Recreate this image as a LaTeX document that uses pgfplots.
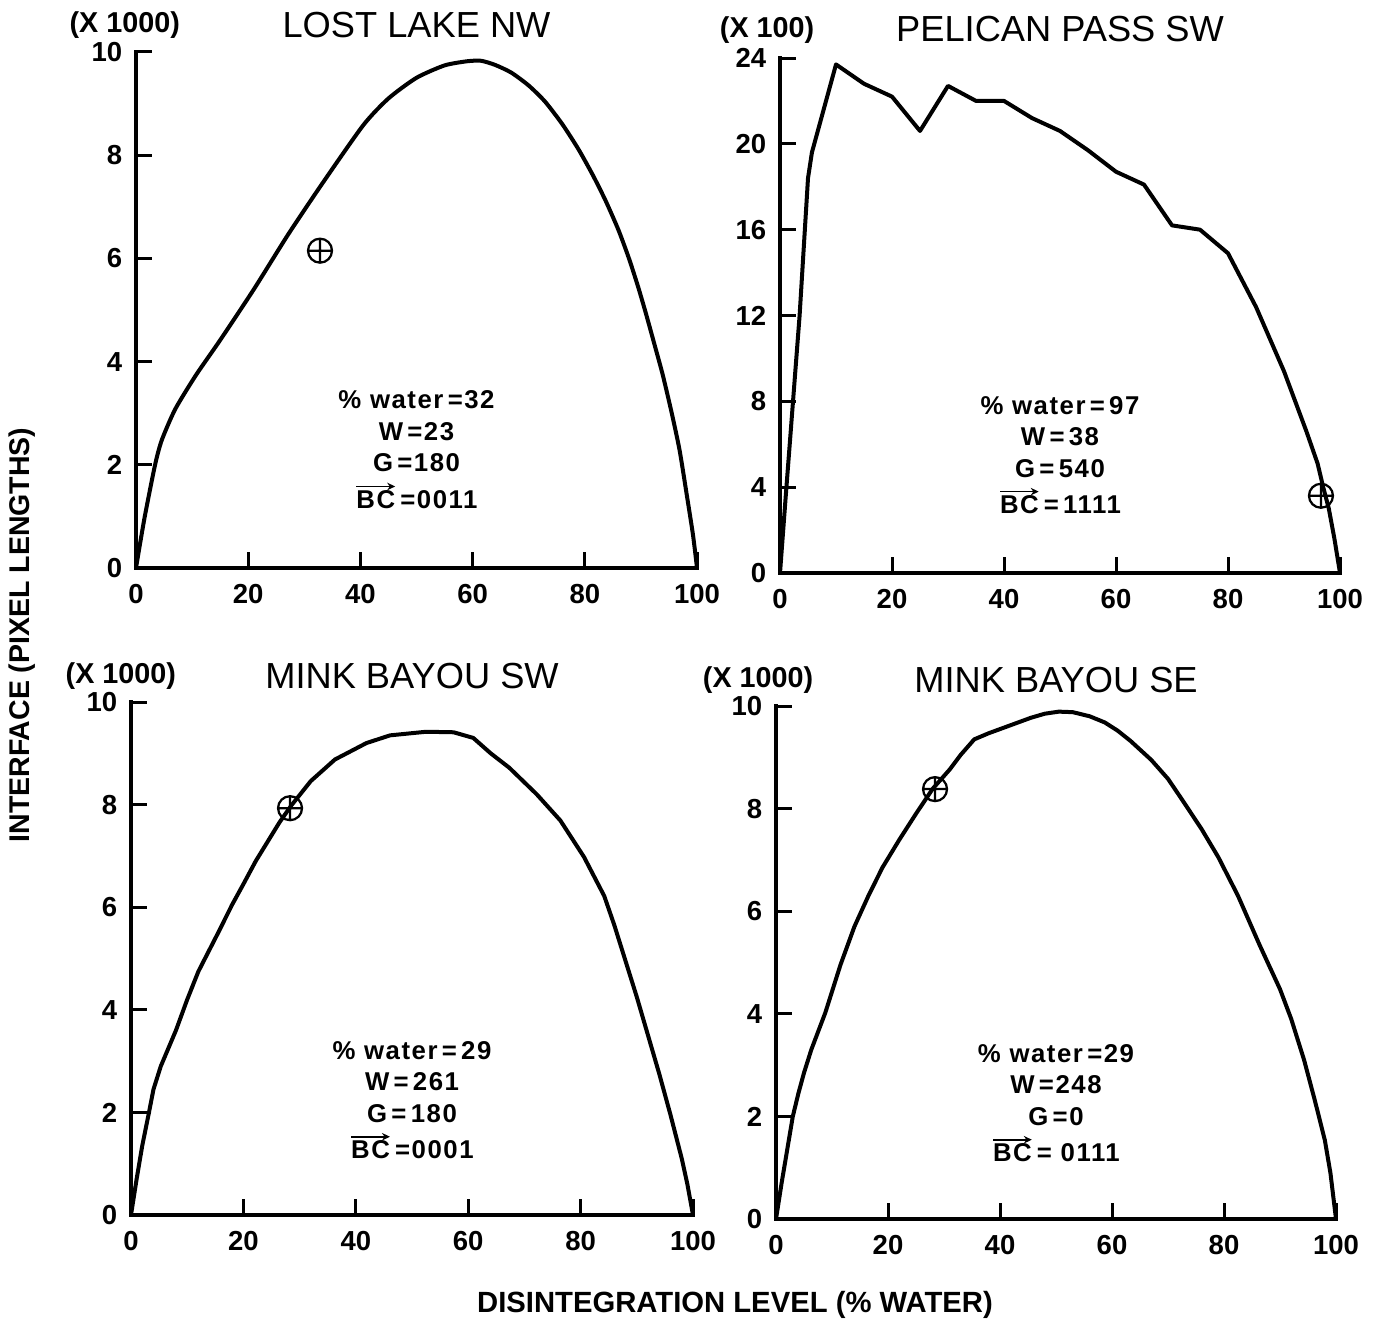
\documentclass[border=0pt]{standalone}
\usepackage{pgfplots}
\pgfplotsset{compat=1.18}
\usetikzlibrary{arrows.meta}
\usepackage{fontspec}
\setmainfont{Liberation Sans}
\newfontfamily\widefont[LetterSpace=6]{Liberation Sans}
\newcommand{\tickfont}{\bfseries\fontsize{11}{13}\selectfont}
\newcommand{\annfont}{\widefont\bfseries\fontsize{10.3}{12.6}\selectfont}
\newcommand{\titlefont}{\fontsize{14.5}{16}\selectfont}
\newcommand{\unitfont}{\bfseries\fontsize{11.5}{13}\selectfont}
\newcommand{\BC}{\tikz[baseline=(b.base)]{\node[inner sep=0pt, outer sep=0pt, anchor=base] (b) at (0,0) {BC};
  \draw[-{Stealth[length=3.2pt,width=3pt]}, line width=0.7pt] ([yshift=1.6pt]b.north west) -- ([yshift=1.6pt]b.north east);}}
\pgfplotsset{
  panel/.style={
    scale only axis,
    anchor=south west,
    axis lines*=left,
    xmin=0, xmax=100, ymin=0,
    clip=false,
    axis line style={line width=1.8pt, line cap=rect},
    major tick style={line width=1.2pt, black},
    major tick length=6.5pt,
    tick align=inside,
    xtick={0,20,...,100},
    /pgf/number format/assume math mode=true,
    ticklabel style={font=\tickfont},
    xticklabel style={yshift=-3pt},
    yticklabel style={xshift=-2pt},
  },
  curve/.style={black, line width=1.6pt, line join=round, no markers},
  cross/.style={only marks, mark=oplus, mark size=4.8pt, mark options={line width=0.9pt, black}},
}
\begin{document}
\begin{tikzpicture}
\useasboundingbox (0,0) rectangle (551.2pt,528.4pt);

% ---------- LOST LAKE NW ----------
\begin{axis}[panel, at={(54.4pt,301.2pt)}, width=224.4pt, height=206.4pt,
  ymax=10, ytick={0,2,...,10}]
\addplot[curve, smooth, tension=0.4] coordinates {
(0,0) (1.5,0.96) (3.4,2.0) (4.6,2.48) (7,3.08) (10.7,3.74) (14.9,4.4) (21,5.4)
(27.1,6.46) (33.2,7.45) (40.5,8.58) (45,9.1) (50,9.5) (55,9.74) (59,9.82)
(61.5,9.83) (64,9.75) (66.9,9.6) (70,9.35) (72.9,9.04) (76,8.6) (78.9,8.11)
(81.5,7.6) (83.7,7.12) (86,6.55) (87.9,5.99) (89.5,5.45) (90.9,4.93) (92.5,4.3)
(93.9,3.74) (95.5,3.0) (96.9,2.28) (98.2,1.4) (99.3,0.63) (100,0)};
\addplot[cross] coordinates {(32.8,6.15)};
\node[anchor=base, font=\titlefont] at (rel axis cs:0.5,1) [yshift=5.6pt] {LOST LAKE NW};
\node[anchor=base, font=\unitfont] at (rel axis cs:-0.02,1) [yshift=7.6pt] {(X 1000)};
\node[align=center, font=\annfont] at (axis cs:50,2.29)
  {\% water\,=32\\W\,=23\\G\,=180\\[2pt]\BC\,=0011};
\end{axis}

% ---------- PELICAN PASS SW ----------
\begin{axis}[panel, at={(312pt,299.2pt)}, width=224pt, height=206pt,
  ymax=24, ytick={0,4,...,24}]
\addplot[curve] coordinates {
(0,0) (1,3.5) (3.5,12) (5,18.4) (5.7,19.6) (10,23.7) (15,22.8) (20,22.2)
(25,20.6) (30,22.7) (35,22.0) (40,22.0) (45,21.2) (50,20.6) (55,19.7)
(60,18.7) (65,18.1) (70,16.2) (75,16.0) (80,14.9) (82,13.9) (85,12.4)
(88,10.6) (90,9.4) (92,8.0) (94,6.6) (96,5.1) (97,4.0) (98,3.0) (99,1.6) (100,0)};
\addplot[cross] coordinates {(96.6,3.6)};
\node[anchor=base, font=\titlefont] at (rel axis cs:0.5,1) [yshift=6.4pt] {PELICAN PASS SW};
\node[anchor=base, font=\unitfont] at (rel axis cs:-0.023,1) [yshift=8pt] {(X 100)};
\node[align=center, font=\annfont] at (axis cs:50,5.5)
  {\% water\,=\,97\\W\,=\,38\\G\,=\,540\\[2pt]\BC\,=\,1111};
\end{axis}

% ---------- MINK BAYOU SW ----------
\begin{axis}[panel, at={(52.4pt,42.4pt)}, width=224.8pt, height=205.2pt,
  ymax=10, ytick={0,2,...,10}]
\addplot[curve] coordinates {
(0,0) (1,0.7) (2,1.35) (3.2,2.0) (4,2.45) (5.3,2.9) (8,3.6) (10,4.2)
(12,4.75) (15.5,5.5) (18,6.05) (20,6.45) (22.2,6.9) (26.4,7.65) (28.5,7.98)
(32,8.46) (36.3,8.88) (41.9,9.2) (46.1,9.35) (52.5,9.42) (57.4,9.41) (60.9,9.3)
(64,9.0) (67.3,8.72) (72.2,8.2) (76.4,7.69) (80.6,6.98) (84.2,6.22) (86,5.65)
(88,4.95) (90,4.25) (92,3.5) (94,2.75) (96,1.95) (98,1.1) (99,0.6) (100,0)};
\addplot[cross] coordinates {(28.3,7.93)};
\node[anchor=base, font=\titlefont] at (rel axis cs:0.5,1) [yshift=5.6pt] {MINK BAYOU SW};
\node[anchor=base, font=\unitfont] at (rel axis cs:-0.018,1) [yshift=7.6pt] {(X 1000)};
\node[align=center, font=\annfont] at (axis cs:50,2.24)
  {\% water\,=\,29\\W\,=\,261\\G\,=\,180\\[2pt]\BC\,=0001};
\end{axis}

% ---------- MINK BAYOU SE ----------
\begin{axis}[panel, at={(310.4pt,40.8pt)}, width=224pt, height=205.2pt,
  ymax=10, ytick={0,2,...,10}]
\addplot[curve] coordinates {
(0,0) (1,0.7) (2,1.35) (3,2.0) (4,2.45) (5,2.85) (6.3,3.3) (8.8,4.02)
(11.5,4.95) (14,5.7) (16.5,6.3) (19,6.85) (22,7.39) (25,7.9) (28,8.39)
(31,8.76) (33,9.05) (35.4,9.35) (38,9.47) (40,9.55) (43,9.67) (45.5,9.77)
(48,9.85) (50.5,9.89) (53,9.88) (56,9.8) (58.7,9.68) (61,9.52) (63.3,9.32)
(67,8.95) (70,8.58) (72.6,8.16) (76,7.6) (79,7.05) (82.5,6.3) (86.4,5.33)
(90,4.48) (92,3.9) (94.3,3.1) (96.2,2.32) (98,1.54) (99,0.9) (100,0)};
\addplot[cross] coordinates {(28.4,8.38)};
\node[anchor=base, font=\titlefont] at (rel axis cs:0.5,1) [yshift=5.6pt] {MINK BAYOU SE};
\node[anchor=base, font=\unitfont] at (rel axis cs:-0.032,1) [yshift=7.6pt] {(X 1000)};
\node[align=center, font=\annfont] at (axis cs:50,2.26)
  {\% water\,=29\\W\,=248\\G\,=0\\[2pt]\BC\,= 0111};
\end{axis}

% ---------- common labels ----------
\node[rotate=90, font=\bfseries\fontsize{11.4}{13}\selectfont] at (8.8pt,274.4pt) {INTERFACE (PIXEL LENGTHS)};
\node[font=\bfseries\fontsize{11.7}{13}\selectfont] at (294pt,6.4pt) {DISINTEGRATION LEVEL (\% WATER)};
\end{tikzpicture}
\end{document}
